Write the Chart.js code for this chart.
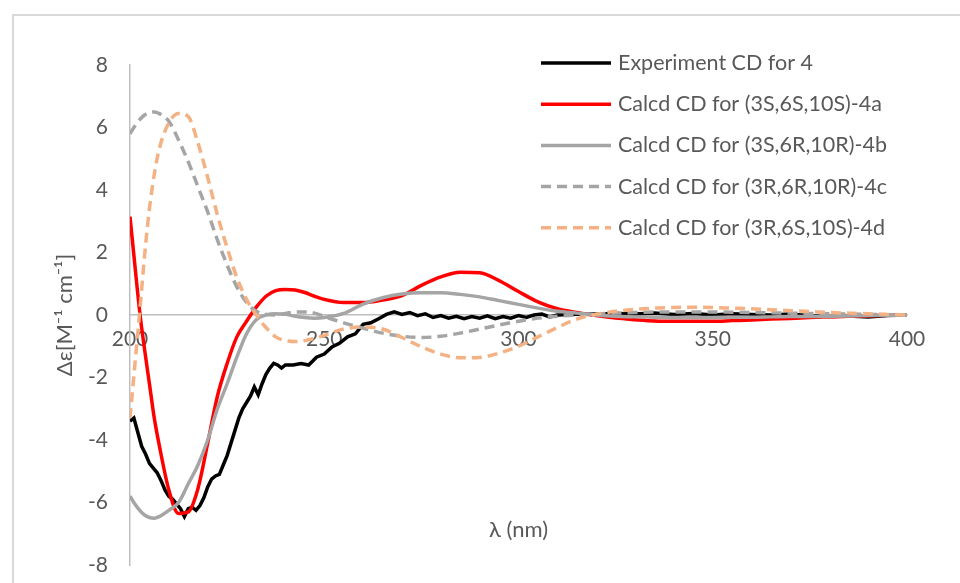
<!DOCTYPE html>
<html>
<head>
<meta charset="utf-8">
<title>CD spectra</title>
<script src="https://cdn.jsdelivr.net/npm/chart.js@4.4.0/dist/chart.umd.min.js"></script>
<style>
    html, body { margin: 0; padding: 0; background: #fff; overflow: hidden; }
    #wrap { position: relative; width: 960px; height: 583px; overflow: hidden; }
    #frame { position: absolute; left: 12px; top: 14px; width: 960px; height: 600px; border: 2px solid #d9d9d9; }
    #cdChart { position: absolute; left: 0; top: 0; }
</style>
</head>
<body>
<div id="wrap">
    <div id="frame"></div>
    <canvas id="cdChart" width="960" height="583"></canvas>
</div>
<script>
// wavelengths (nm) of the calculated spectra
const calcNm = [200, 201.25, 202.5, 203.75, 205, 206.25, 207.5, 210, 212.5, 215, 217.5, 220, 222.5, 225, 227.5, 230, 232.5, 235, 237.5, 240, 242.5, 245, 247.5, 250,
    255, 260, 265, 270, 275, 280, 285, 290, 295, 300, 305, 310, 315, 320, 325, 330, 335, 340, 345, 350,
    355, 360, 365, 370, 375, 380, 385, 390, 395, 400];

const calc4a = [3.15, 1.6, 0.1, -1.1, -2.2, -3.3, -4.15, -5.6, -6.35, -6.3, -5.55, -4.1, -2.6, -1.55, -0.7, -0.2, 0.25, 0.6, 0.78, 0.82, 0.8, 0.72, 0.6, 0.5,
    0.4, 0.4, 0.48, 0.62, 0.95, 1.22, 1.37, 1.35, 1.1, 0.75, 0.42, 0.2, 0.08, -0.02, -0.1, -0.15, -0.19, -0.2, -0.2, -0.2,
    -0.18, -0.16, -0.13, -0.11, -0.08, -0.06, -0.04, -0.03, -0.01, 0];

const calc4b = [-5.8, -6.05, -6.25, -6.4, -6.48, -6.5, -6.45, -6.25, -6.0, -5.4, -4.8, -4.0, -3.0, -2.2, -1.35, -0.6, -0.15, 0.0, 0.04, 0.02, -0.04, -0.08, -0.1, -0.08,
    0.05, 0.35, 0.55, 0.67, 0.71, 0.71, 0.66, 0.58, 0.46, 0.34, 0.22, 0.12, 0.06, 0.0, -0.04, -0.06, -0.07, -0.08, -0.08, -0.08,
    -0.07, -0.07, -0.06, -0.05, -0.05, -0.04, -0.03, -0.02, -0.01, 0];

const calc4c = [5.8, 6.05, 6.25, 6.4, 6.48, 6.5, 6.45, 6.2, 5.6, 4.9, 4.1, 3.3, 2.4, 1.6, 0.9, 0.4, 0.12, 0.02, 0.0, 0.05, 0.1, 0.1, 0.06, -0.05,
    -0.25, -0.42, -0.58, -0.68, -0.72, -0.68, -0.58, -0.45, -0.32, -0.2, -0.1, -0.04, 0.0, 0.03, 0.06, 0.08, 0.1, 0.1, 0.1, 0.1,
    0.09, 0.08, 0.07, 0.06, 0.05, 0.04, 0.03, 0.02, 0.01, 0];

const calc4d = [-3.3, -1.6, 0.1, 1.9, 3.4, 4.5, 5.3, 6.15, 6.45, 6.35, 5.5, 4.4, 3.2, 2.15, 1.2, 0.5, 0.0, -0.4, -0.7, -0.82, -0.85, -0.82, -0.75, -0.65,
    -0.45, -0.38, -0.45, -0.72, -1.02, -1.25, -1.37, -1.36, -1.22, -1.0, -0.7, -0.4, -0.13, 0.02, 0.12, 0.18, 0.22, 0.24, 0.25, 0.24,
    0.22, 0.2, 0.17, 0.14, 0.11, 0.08, 0.06, 0.04, 0.02, 0];

// experimental spectrum
const expNm = [200, 201, 202, 203, 204, 205, 206, 207, 208, 209, 210, 211, 212, 213, 214, 215, 216, 217, 218, 219, 220,
    221, 222, 223, 224, 225, 226, 227, 228, 229, 230, 231, 232, 233, 234, 235, 236, 237, 238, 239, 240,
    242, 244, 246, 248, 250, 252, 254, 256, 258, 260, 262, 264, 266, 268, 270, 272, 274, 276, 278, 280,
    282, 284, 286, 288, 290, 292, 294, 296, 298, 300, 302, 304, 306, 308, 310,
    315, 320, 325, 330, 335, 340, 345, 350, 355, 360, 365, 370, 375, 380, 385, 390, 395, 400];

const exp4 = [-3.4, -3.3, -3.75, -4.2, -4.45, -4.75, -4.9, -5.05, -5.3, -5.6, -5.8, -5.9, -6.05, -6.2, -6.45, -6.2, -6.15, -6.25, -6.1, -5.85, -5.5,
    -5.25, -5.15, -5.1, -4.8, -4.5, -4.1, -3.7, -3.3, -3.0, -2.8, -2.6, -2.3, -2.55, -2.2, -1.9, -1.7, -1.55, -1.6, -1.7, -1.6,
    -1.6, -1.55, -1.6, -1.35, -1.25, -1.02, -0.9, -0.7, -0.6, -0.3, -0.25, -0.12, 0.02, 0.1, 0.02, 0.08, -0.02, 0.04, -0.08, -0.02,
    -0.1, -0.04, -0.12, -0.05, -0.1, -0.03, -0.12, -0.05, -0.1, -0.02, -0.08, 0.0, 0.03, -0.06, 0.0,
    0.02, 0.03, 0.05, 0.03, 0.06, 0.02, 0.05, 0.0, 0.04, 0.02, 0.0, 0.03, -0.02, -0.05, -0.03, -0.06, -0.02, 0];

const seriesLabels = [
    'Experiment CD for 4',
    'Calcd CD for (3S,6S,10S)-4a',
    'Calcd CD for (3S,6R,10R)-4b',
    'Calcd CD for (3R,6R,10R)-4c',
    'Calcd CD for (3R,6S,10S)-4d'
];

const FONT = 'Lato, "Open Sans", sans-serif';
const TEXT = '#595959';

function toPoints(xs, ys) {
    return xs.map((x, i) => ({ x: x, y: ys[i] }));
}

// legend drawn in the upper right, Excel style
const cornerLegend = {
    id: 'cornerLegend',
    afterDraw(chart) {
        const { ctx, chartArea } = chart;
        const x1 = 541, x2 = 611, tx = 618;
        ctx.save();
        ctx.font = '21.5px ' + FONT;
        ctx.textBaseline = 'middle';
        ctx.fillStyle = TEXT;
        chart.data.datasets.forEach((ds, i) => {
            const y = chartArea.top - 2 + i * 41.2;
            ctx.beginPath();
            ctx.strokeStyle = ds.borderColor;
            ctx.lineWidth = ds.borderWidth;
            ctx.setLineDash(ds.borderDash || []);
            ctx.moveTo(x1, y);
            ctx.lineTo(x2, y);
            ctx.stroke();
            ctx.setLineDash([]);
            ctx.fillText(ds.label, tx, y);
        });
        ctx.restore();
    }
};

const bottomTitle = {
    id: 'bottomTitle',
    afterDraw(chart) {
        const { ctx, chartArea } = chart;
        ctx.save();
        ctx.font = '22px ' + FONT;
        ctx.fillStyle = TEXT;
        ctx.textAlign = 'center';
        ctx.textBaseline = 'middle';
        ctx.fillText('λ (nm)', (chartArea.left + chartArea.right) / 2, chartArea.bottom - 35);
        ctx.restore();
    }
};

class CDSpectrumChart {
    constructor() {
        this.chart = null;
    }

    init() {
        const ctx = document.getElementById('cdChart');
        if (!ctx) return;

        const line = (label, nm, values, color, width, dash, order, smooth) => ({
            label: label,
            data: toPoints(nm, values),
            borderColor: color,
            backgroundColor: color,
            borderWidth: width,
            borderDash: dash,
            pointRadius: 0,
            fill: false,
            order: order,
            tension: smooth ? 0.4 : 0,
            cubicInterpolationMode: smooth ? 'monotone' : 'default'
        });

        this.chart = new Chart(ctx, {
            type: 'line',
            data: {
                datasets: [
                    line(seriesLabels[0], expNm, exp4, '#000000', 3.5, [], 5, false),
                    line(seriesLabels[1], calcNm, calc4a, '#ff0000', 3.5, [], 4, true),
                    line(seriesLabels[2], calcNm, calc4b, '#a5a5a5', 3.5, [], 3, true),
                    line(seriesLabels[3], calcNm, calc4c, '#a5a5a5', 3.5, [10, 6], 2, true),
                    line(seriesLabels[4], calcNm, calc4d, '#f4b183', 3.5, [10, 6], 1, true)
                ]
            },
            options: {
                responsive: false,
                animation: false,
                layout: { padding: { left: 0, top: 65, right: 53, bottom: 18 } },
                plugins: {
                    legend: { display: false },
                    tooltip: { enabled: false }
                },
                scales: {
                    x: {
                        type: 'linear',
                        position: { y: 0 },
                        min: 200,
                        max: 400,
                        grid: { display: false, drawTicks: false },
                        border: { color: '#bfbfbf', width: 1.5 },
                        ticks: { stepSize: 50, padding: 12, color: TEXT, font: { family: FONT, size: 21 } },
                        afterFit: (scale) => { scale.height = 0; }
                    },
                    y: {
                        min: -8,
                        max: 8,
                        grid: { display: false, drawTicks: false },
                        border: { color: '#bfbfbf', width: 1.5 },
                        ticks: { stepSize: 2, padding: 22, color: TEXT, font: { family: FONT, size: 21 } },
                        title: {
                            display: true,
                            text: 'Δε[M⁻¹ cm⁻¹]',
                            color: TEXT,
                            font: { family: FONT, size: 22 },
                            padding: { top: 52, bottom: 0 }
                        },
                        afterFit: (scale) => {
                            scale.width = 130;
                            scale.paddingTop = 0;
                            scale.paddingBottom = 0;
                        }
                    }
                }
            },
            plugins: [cornerLegend, bottomTitle]
        });
    }
}

document.addEventListener('DOMContentLoaded', () => {
    const cdChart = new CDSpectrumChart();
    cdChart.init();
});
</script>
</body>
</html>
